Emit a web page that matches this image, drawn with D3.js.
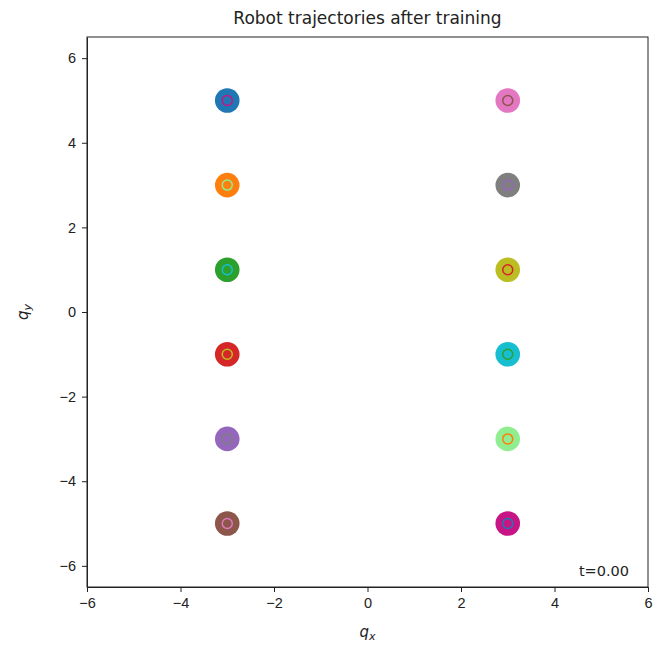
<!DOCTYPE html>
<html>
<head>
<meta charset="utf-8">
<script src="https://cdn.jsdelivr.net/npm/d3@7"></script>
<style>
  body { margin: 0; background: #fff; }
  svg { font-family: "DejaVu Sans", sans-serif; }
  .axis text { font-size: 14.5px; fill: #222; }
  .axis path, .axis line { stroke: #222; }
</style>
</head>
<body>
<svg id="chart" width="656" height="646"></svg>
<script>
// robot start positions
var robotX = [-3, -3, -3, -3, -3, -3, 3, 3, 3, 3, 3, 3];
var robotY = [5, 3, 1, -1, -3, -5, 5, 3, 1, -1, -3, -5];
var robotColors = ["#1f77b4", "#ff7f0e", "#2ca02c", "#d62728", "#9467bd", "#8c564b",
                   "#e377c2", "#7f7f7f", "#bcbd22", "#17becf", "#90ee90", "#c71585"];
// goal marker colours drawn at each robot position
var goalColors = ["#c71585", "#90ee90", "#17becf", "#bcbd22", "#7f7f7f", "#e377c2",
                  "#8c564b", "#9467bd", "#d62728", "#2ca02c", "#ff7f0e", "#1f77b4"];
var xTicks = [-6, -4, -2, 0, 2, 4, 6];
var yTicks = [-6, -4, -2, 0, 2, 4, 6];
var timeLabel = "t=0.00";

var svg = d3.select("#chart"),
  margin = { top: 37, right: 8, bottom: 59, left: 87 },
  width = 656 - margin.left - margin.right,
  height = 646 - margin.top - margin.bottom;

var x = d3.scaleLinear().domain([-6, 6]).range([0, width]),
  y = d3.scaleLinear().domain([-6.5, 6.5]).range([height, 0]);

var g = svg.append("g")
  .attr("transform", "translate(" + margin.left + "," + margin.top + ")");

var fmt = function (d) { return d < 0 ? "\u2212" + Math.abs(d) : "" + d; };

g.append("g")
  .attr("class", "axis")
  .attr("transform", "translate(0," + height + ")")
  .call(d3.axisBottom(x).tickValues(xTicks).tickFormat(fmt).tickSize(5).tickSizeOuter(0).tickPadding(6));

g.append("g")
  .attr("class", "axis")
  .call(d3.axisLeft(y).tickValues(yTicks).tickFormat(fmt).tickSize(5).tickSizeOuter(0).tickPadding(6));

g.append("rect")
  .attr("width", width).attr("height", height)
  .attr("fill", "none").attr("stroke", "#222");

var data = robotX.map(function (d, i) {
  return { x: d, y: robotY[i], c: robotColors[i], goal: goalColors[i] };
});

g.selectAll(".robot")
  .data(data)
  .enter().append("circle")
  .attr("class", "robot")
  .attr("cx", function (d) { return x(d.x); })
  .attr("cy", function (d) { return y(d.y); })
  .attr("r", 12.3)
  .attr("fill", function (d) { return d.c; });

g.selectAll(".goal")
  .data(data)
  .enter().append("circle")
  .attr("class", "goal")
  .attr("cx", function (d) { return x(d.x); })
  .attr("cy", function (d) { return y(d.y); })
  .attr("r", 5)
  .attr("fill", "none")
  .attr("stroke-width", 1.5)
  .attr("stroke", function (d) { return d.goal; });

g.append("text")
  .attr("x", width - 19).attr("y", height - 11)
  .attr("text-anchor", "end")
  .style("font-size", "14.5px").attr("fill", "#222")
  .text(timeLabel);

svg.append("text")
  .attr("x", margin.left + width / 2).attr("y", 24)
  .attr("text-anchor", "middle")
  .style("font-size", "17px").attr("fill", "#222")
  .text("Robot trajectories after training");

var xl = svg.append("text")
  .attr("x", margin.left + width / 2).attr("y", 637)
  .attr("text-anchor", "middle")
  .style("font-size", "15px").style("font-style", "italic").attr("fill", "#222");
xl.append("tspan").text("q");
xl.append("tspan").attr("dy", 3).style("font-size", "11px").text("x");

var yl = svg.append("text")
  .attr("transform", "translate(28," + (margin.top + height / 2) + ") rotate(-90)")
  .attr("text-anchor", "middle")
  .style("font-size", "15px").style("font-style", "italic").attr("fill", "#222");
yl.append("tspan").text("q");
yl.append("tspan").attr("dy", 3).style("font-size", "11px").text("y");
</script>
</body>
</html>
